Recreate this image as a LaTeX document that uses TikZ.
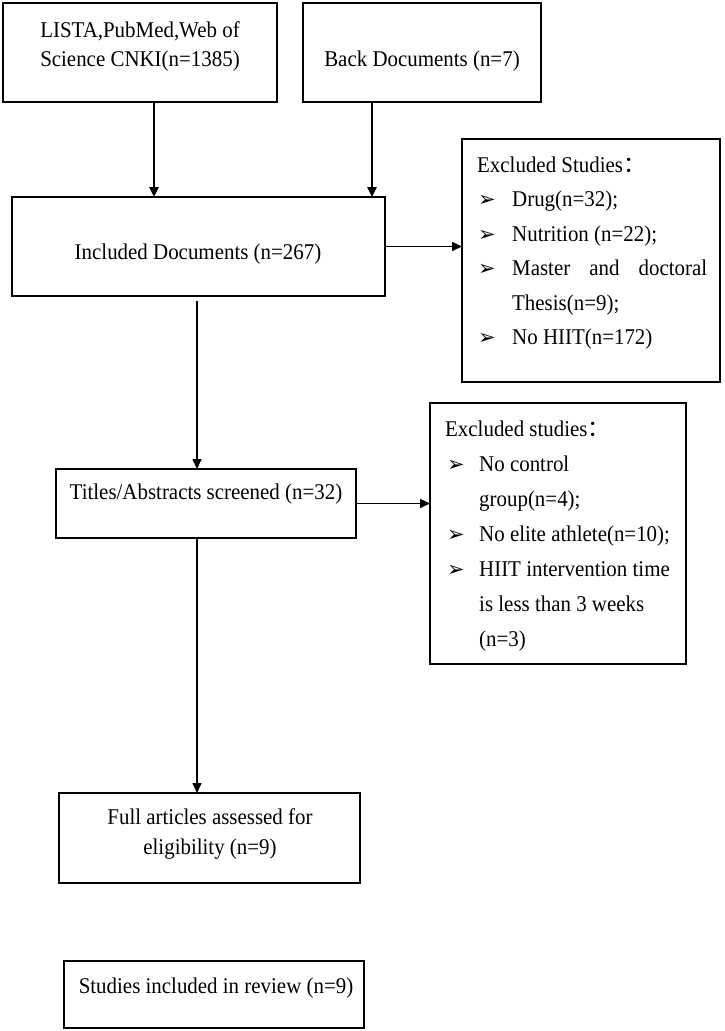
\documentclass[tikz,border=0pt]{standalone}
\usepackage{fontspec}
\setmainfont{Liberation Serif}[FakeStretch=0.93]
\newfontfamily\dejavu{DejaVu Sans}
\newfontfamily\cjkfont{Noto Sans CJK SC}
\usetikzlibrary{arrows.meta}
\tikzset{
  boxst/.style={draw=black, line width=1.8pt, inner sep=0pt, outer sep=0pt, anchor=north west},
  txt/.style={inner sep=0pt, font=\fontsize{22.5}{26}\selectfont, anchor=base},
  ltxt/.style={inner sep=0pt, font=\fontsize{22.5}{26}\selectfont, anchor=base west},
  bltst/.style={inner sep=0pt, font=\dejavu\fontsize{21}{21}\selectfont, anchor=base west},
  arr/.style={line width=1.6pt, -{Triangle[length=10pt,width=9pt]}},
  arrthick/.style={line width=2.6pt, -{Triangle[length=10pt,width=9pt]}},
}
\begin{document}
\begin{tikzpicture}[x=1pt,y=-1pt]
\useasboundingbox (0,0) rectangle (724,1031);
\fill[white] (0,0) rectangle (724,1031);
% boxes
\node[boxst, minimum width=274pt, minimum height=99pt] (b1) at (3,3) {};
\node[boxst, minimum width=238pt, minimum height=99pt] (b2) at (303,3) {};
\node[boxst, minimum width=373pt, minimum height=99pt] (inc) at (12,197) {};
\node[boxst, minimum width=258pt, minimum height=243pt] (ex1) at (462,139) {};
\node[boxst, minimum width=300pt, minimum height=69pt] (tit) at (56,469) {};
\node[boxst, minimum width=256pt, minimum height=261pt] (ex2) at (430,403) {};
\node[boxst, minimum width=301pt, minimum height=90pt] (full) at (59,793) {};
\node[boxst, minimum width=300pt, minimum height=67pt] (stud) at (64,961) {};
% texts
\node[txt] (b1a) at (140,37) {LISTA,PubMed,Web of};
\node[txt] (b1b) at (140,66) {Science CNKI(n=1385)};
\node[txt] (b2a) at (422,66) {Back Documents (n=7)};
\node[txt] (inca) at (198,259) {Included Documents (n=267)};
\node[txt] (tita) at (206,499) {Titles/Abstracts screened (n=32)};
\node[txt] (fulla) at (210,824) {Full articles assessed for};
\node[txt] (fullb) at (210,854) {eligibility (n=9)};
\node[txt] (studa) at (216,993) {Studies included in review (n=9)};
% excluded 1
\node[ltxt] (e1h) at (477,172) {Excluded Studies{\cjkfont ：}};
\node[bltst] (e1b1) at (478,206.5) {➢};
\node[ltxt] (e1t1) at (512,206.5) {Drug(n=32);};
\node[bltst] (e1b2) at (478,241) {➢};
\node[ltxt] (e1t2) at (512,241) {Nutrition (n=22);};
\node[bltst] (e1b3) at (478,275.5) {➢};
\node[ltxt] (e1t3) at (512,275.5) {\makebox[195pt][s]{Master\hfill and\hfill doctoral}};
\node[ltxt] (e1t4) at (512,310) {Thesis(n=9);};
\node[bltst] (e1b5) at (478,344.5) {➢};
\node[ltxt] (e1t5) at (512,344.5) {No HIIT(n=172)};
% excluded 2
\node[ltxt] (e2h) at (445,436) {Excluded studies{\cjkfont ：}};
\node[bltst] (e2b1) at (447,471) {➢};
\node[ltxt] (e2t1) at (479,471) {No control};
\node[ltxt] (e2t2) at (479,506) {group(n=4);};
\node[bltst] (e2b3) at (447,541) {➢};
\node[ltxt] (e2t3) at (479,541) {No elite athlete(n=10);};
\node[bltst] (e2b4) at (447,576) {➢};
\node[ltxt] (e2t4) at (479,576) {HIIT intervention time};
\node[ltxt] (e2t5) at (479,611) {is less than 3 weeks};
\node[ltxt] (e2t6) at (479,646) {(n=3)};
% connector columns
\coordinate (c1) at (154,0);
\coordinate (c2) at (372,0);
\coordinate (c3) at (197,0);
% connectors
\draw[arrthick] (b1.south -| c1) -- (c1 |- inc.north);
\draw[arrthick] (b2.south -| c2) -- (c2 |- inc.north);
\draw[arr] (inc.east) -- (inc.east -| ex1.west);
\draw[arr] ([yshift=-5pt]inc.south -| c3) -- (c3 |- tit.north);
\draw[arr] (tit.east) -- (tit.east -| ex2.west);
\draw[arr] (tit.south -| c3) -- (c3 |- full.north);
\end{tikzpicture}
\end{document}
